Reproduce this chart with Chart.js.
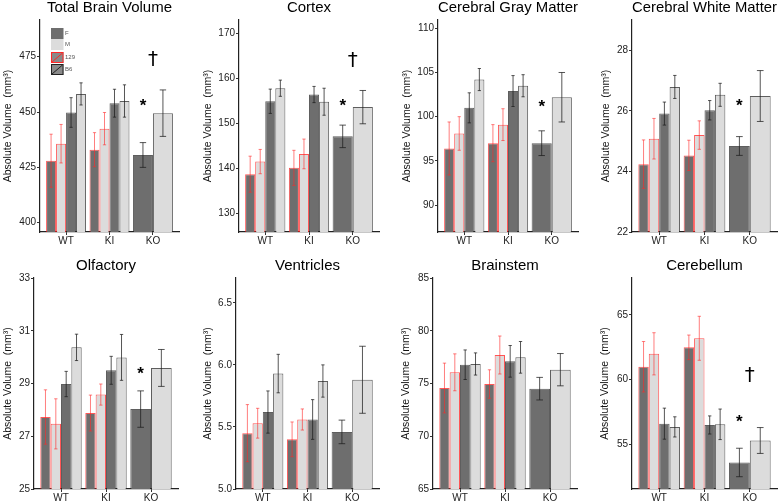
<!DOCTYPE html>
<html>
<head>
<meta charset="utf-8">
<script src="https://cdn.jsdelivr.net/npm/chart.js@4.4.1/dist/chart.umd.min.js"></script>
<style>
  html, body { margin: 0; padding: 0; background: #fff; }
  #wrap { position: relative; width: 778px; height: 502px; overflow: hidden; }
  canvas { position: absolute; }
</style>
</head>
<body>
<div id="wrap"></div>
<script>
// ---- data ----
const groups = ['WT', 'KI', 'KO'];
const seriesNames = ['129 F', '129 M', 'B6 F', 'B6 M'];
const titles = ['Total Brain Volume', 'Cortex', 'Cerebral Gray Matter', 'Cerebral White Matter',
                'Olfactory', 'Ventricles', 'Brainstem', 'Cerebellum'];
const yLimits = [[395.8, 491.6], [125.85, 172.96], [86.95, 110.94], [22, 29],
                 [25, 33], [5, 6.7], [65, 85], [51.55, 67.86]];
const yTickLabels = [['400', '425', '450', '475'], ['130', '140', '150', '160', '170'],
                     ['90', '95', '100', '105', '110'], ['22', '24', '26', '28'],
                     ['25', '27', '29', '31', '33'], ['5.0', '5.5', '6.0', '6.5'],
                     ['65', '70', '75', '80', '85'], ['55', '60', '65']];

// rows: 129 F, 129 M, B6 F, B6 M ; columns: WT, KI, KO
const totalMean = [[428.0, 433.0, null], [435.7, 442.5, null], [449.8, 454.0, 430.6], [458.2, 455.0, 449.5]];
const totalSE   = [[12.0, 7.7, null], [8.7, 7.3, null], [6.7, 6.3, 5.6], [5.0, 7.3, 10.5]];
const cortexMean = [[138.7, 140.1, null], [141.5, 143.2, null], [154.9, 156.4, 147.1], [157.8, 154.8, 153.6]];
const cortexSE   = [[4.0, 3.9, null], [2.7, 3.3, null], [2.7, 1.8, 2.5], [1.8, 3.0, 3.7]];
const grayMean = [[96.4, 97.0, null], [98.1, 99.1, null], [101.0, 102.9, 97.0], [104.2, 103.5, 102.2]];
const graySE   = [[3.0, 2.1, null], [1.9, 1.8, null], [1.7, 1.75, 1.4], [1.25, 1.25, 2.8]];
const whiteMean = [[24.24, 24.53, null], [25.08, 25.2, null], [25.91, 26.02, 24.84], [26.79, 26.53, 26.49]];
const whiteSE   = [[0.8, 0.5, null], [0.67, 0.47, null], [0.38, 0.32, 0.31], [0.38, 0.38, 0.84]];
const olfMean = [[27.73, 27.88, null], [27.47, 28.58, null], [28.98, 29.5, 28.03], [30.37, 29.99, 29.59]];
const olfSE   = [[1.03, 0.68, null], [0.95, 0.4, null], [0.48, 0.53, 0.69], [0.5, 0.87, 0.7]];
const ventMean = [[5.45, 5.40, null], [5.53, 5.56, null], [5.62, 5.56, 5.46], [5.93, 5.87, 5.88]];
const ventSE   = [[0.23, 0.14, null], [0.12, 0.085, null], [0.17, 0.16, 0.095], [0.155, 0.13, 0.27]];
const stemMean = [[74.57, 74.95, null], [76.06, 77.70, null], [76.78, 77.10, 74.51], [76.85, 77.48, 76.31]];
const stemSE   = [[2.36, 1.35, null], [1.75, 1.8, null], [1.4, 1.5, 1.07], [1.05, 1.5, 1.53]];
const cbMean = [[61.0, 62.5, null], [62.0, 63.2, null], [56.6, 56.5, 53.6], [56.35, 56.55, 55.3]];
const cbSE   = [[1.95, 0.95, null], [1.63, 1.7, null], [1.2, 0.7, 1.1], [0.78, 1.18, 1.0]];

const means = [totalMean, cortexMean, grayMean, whiteMean, olfMean, ventMean, stemMean, cbMean];
const ses = [totalSE, cortexSE, graySE, whiteSE, olfSE, ventSE, stemSE, cbSE];

// significance marks (y value; null = none)
const starY = [454, 154.5, 101.4, 26.25, 29.45, null, null, 56.95];
const daggerY = [473.5, 164, null, null, null, null, null, 60.3];

// ---- styles / layout ----
Chart.defaults.font.family = "'Liberation Sans', Arial, sans-serif";
Chart.defaults.color = '#222';
const DARK = '#6e6e6e', LIGHT = '#dcdcdc';
const EDGE_129 = 'rgba(255,30,30,0.75)', EDGE_B6 = 'rgba(40,40,40,0.75)';
const ERR_129 = 'rgba(255,40,40,0.6)', ERR_B6 = 'rgba(30,30,30,0.75)';

const boxes = [
  { left: 0, top: 0, axisL: 40, axisR: 179 },
  { left: 200, top: 0, axisL: 239, axisR: 379 },
  { left: 399, top: 0, axisL: 438, axisR: 578 },
  { left: 598, top: 0, axisL: 632, axisR: 777 },
  { left: 0, top: 258, axisL: 34, axisR: 178 },
  { left: 200, top: 258, axisL: 236, axisR: 379 },
  { left: 398, top: 258, axisL: 433, axisR: 577 },
  { left: 597, top: 258, axisL: 632, axisR: 777 }
];

const errorBars = {
  id: 'errorBars',
  afterDatasetsDraw(chart) {
    const ctx = chart.ctx, y = chart.scales.y;
    chart.data.datasets.forEach((ds, i) => {
      chart.getDatasetMeta(i).data.forEach((bar, j) => {
        const m = ds.data[j].y, e = ds.se[j];
        if (m == null) return;
        const half = bar.width * 0.16;
        const top = y.getPixelForValue(m + e), bot = y.getPixelForValue(m - e);
        ctx.save();
        ctx.strokeStyle = ds.errColor;
        ctx.lineWidth = 1;
        ctx.beginPath();
        ctx.moveTo(bar.x, top); ctx.lineTo(bar.x, bot);
        ctx.moveTo(bar.x - half, top); ctx.lineTo(bar.x + half, top);
        ctx.moveTo(bar.x - half, bot); ctx.lineTo(bar.x + half, bot);
        ctx.stroke();
        ctx.restore();
      });
    });
  }
};

const marks = {
  id: 'marks',
  afterDraw(chart, args, opts) {
    const ctx = chart.ctx, x = chart.scales.x, y = chart.scales.y;
    ctx.save();
    ctx.fillStyle = '#000';
    ctx.textAlign = 'center';
    ctx.textBaseline = 'middle';
    if (opts.star != null) {
      const koBar = chart.getDatasetMeta(2).data[2];
      ctx.font = "bold 17px 'Liberation Sans', Arial, sans-serif";
      ctx.fillText('*', koBar.x, y.getPixelForValue(opts.star) + 3);
    }
    if (opts.dagger != null) {
      ctx.font = "20px 'DejaVu Sans', sans-serif";
      ctx.fillText('\u2020', x.getPixelForValue(3), y.getPixelForValue(opts.dagger));
    }
    ctx.restore();
  }
};

const keyLegend = {
  id: 'keyLegend',
  afterDraw(chart, args, opts) {
    if (!opts.show) return;
    const ctx = chart.ctx, a = chart.chartArea;
    const x0 = a.left + 11, w = 12.5, h = 11;
    const keys = [
      { label: 'F', fill: DARK, edge: null, y: a.top + 8 },
      { label: 'M', fill: LIGHT, edge: null, y: a.top + 19 },
      { label: '129', fill: '#8a8a8a', edge: 'rgb(255,40,40)', y: a.top + 32 },
      { label: 'B6', fill: '#8a8a8a', edge: '#222', y: a.top + 44 }
    ];
    ctx.save();
    keys.forEach(k => {
      ctx.fillStyle = k.fill;
      ctx.fillRect(x0, k.y, w, h);
      if (k.edge) {
        ctx.strokeStyle = k.edge;
        ctx.lineWidth = 1;
        ctx.strokeRect(x0 + 0.5, k.y + 0.5, w - 1, h - 1);
        ctx.beginPath();
        ctx.moveTo(x0 + 1, k.y + h - 1);
        ctx.lineTo(x0 + w - 1, k.y + 1);
        ctx.stroke();
      }
      ctx.fillStyle = '#555';
      ctx.font = "6px 'Liberation Sans', Arial, sans-serif";
      ctx.textAlign = 'left';
      ctx.textBaseline = 'middle';
      ctx.fillText(k.label, x0 + w + 1.5, k.y + h / 2);
    });
    ctx.restore();
  }
};

const wrap = document.getElementById('wrap');

titles.forEach((title, p) => {
  const b = boxes[p];
  const canvas = document.createElement('canvas');
  const width = b.axisR - b.left + 1;
  const height = b.top ? 244 : 245;
  canvas.width = width;
  canvas.height = height;
  canvas.style.left = b.left + 'px';
  canvas.style.top = b.top + 'px';
  canvas.style.width = width + 'px';
  canvas.style.height = height + 'px';
  wrap.appendChild(canvas);

  const datasets = seriesNames.map((name, s) => ({
    label: name,
    data: groups.map((g, k) => ({ x: k + 1, y: means[p][s][k] })),
    se: ses[p][s],
    backgroundColor: s % 2 === 0 ? DARK : LIGHT,
    borderColor: s < 2 ? EDGE_129 : EDGE_B6,
    borderWidth: 1,
    borderSkipped: 'start',
    errColor: s < 2 ? ERR_129 : ERR_B6,
    categoryPercentage: 0.92,
    barPercentage: 1,
    skipNull: true
  }));

  const tickVals = yTickLabels[p].map(Number);

  new Chart(canvas, {
    type: 'bar',
    data: { datasets },
    options: {
      responsive: false,
      animation: false,
      devicePixelRatio: window.devicePixelRatio || 1,
      layout: { padding: { left: 0, right: 1, top: 0, bottom: 0 } },
      scales: {
        x: {
          type: 'linear',
          min: 0.4,
          max: 3.6,
          offset: false,
          afterBuildTicks: s => { s.ticks = [1, 2, 3].map(v => ({ value: v })); },
          afterFit: s => { s.height = 13; },
          ticks: {
            callback: v => groups[v - 1],
            font: { size: 10 },
            color: '#222',
            padding: 0,
            maxRotation: 0
          },
          grid: { display: true, drawOnChartArea: false, offset: false, tickLength: 3, tickColor: '#333', tickWidth: 1 },
          border: { display: true, color: '#222', width: 1.2 }
        },
        y: {
          min: yLimits[p][0],
          max: yLimits[p][1],
          beginAtZero: false,
          afterBuildTicks: s => { s.ticks = tickVals.map(v => ({ value: v })); },
          afterFit: s => { s.width = b.axisL - b.left; },
          ticks: {
            callback: (v, i) => yTickLabels[p][i],
            font: { size: 10 },
            color: '#222',
            padding: 1
          },
          grid: { display: true, drawOnChartArea: false, tickLength: 3, tickColor: '#333', tickWidth: 1 },
          border: { display: true, color: '#222', width: 1.2 },
          title: {
            display: true,
            text: 'Absolute Volume  (mm\u00B3)',
            font: { size: 10.5 },
            color: '#111',
            padding: { top: 2, bottom: 0 }
          }
        }
      },
      plugins: {
        legend: { display: false },
        tooltip: { enabled: false },
        title: {
          display: true,
          text: title,
          fullSize: false,
          color: '#000',
          font: { size: 15, weight: 'normal', lineHeight: 1.1 },
          padding: { top: 0, bottom: 3.5 }
        },
        marks: { star: starY[p], dagger: daggerY[p] },
        keyLegend: { show: p === 0 }
      }
    },
    plugins: [errorBars, marks, keyLegend]
  });
});
</script>
</body>
</html>
